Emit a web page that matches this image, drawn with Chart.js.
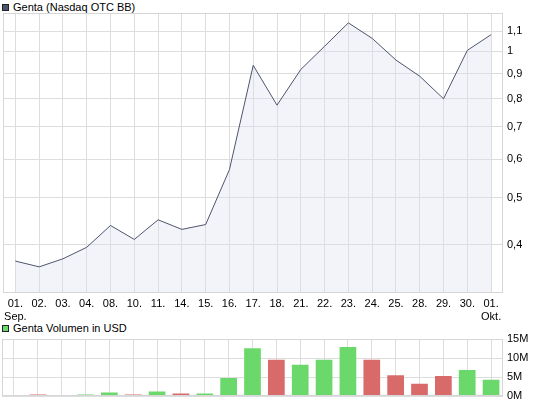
<!DOCTYPE html>
<html>
<head>
<meta charset="utf-8">
<script src="https://cdn.jsdelivr.net/npm/chart.js@4.4.1/dist/chart.umd.min.js"></script>
<style>
  body { margin: 0; width: 545px; height: 407px; overflow: hidden; background: #fff;
         font-family: "Liberation Sans", Arial, sans-serif; font-size: 11px; color: #000; }
  .legend { position: absolute; left: 2px; height: 12px; line-height: 12px; white-space: nowrap; }
  .legend i { display: inline-block; width: 5px; height: 5px; border: 1px solid #222;
              margin-right: 4px; vertical-align: 0px; }
  #priceBox { position: absolute; left: 0; top: 0; width: 545px; height: 322px; }
  #volBox { position: absolute; left: 0; top: 320px; width: 545px; height: 87px; }
</style>
</head>
<body>
<div class="legend" style="top:1px"><i style="background:#4e546c"></i>Genta (Nasdaq OTC BB)</div>
<div class="legend" style="top:322px"><i style="background:#6ad86a"></i>Genta Volumen in USD</div>
<div id="priceBox"><canvas id="price"></canvas></div>
<div id="volBox"><canvas id="vol"></canvas></div>
<script>
  // trading days, 01. Sep. to 01. Okt.
  const days = [['01.', 'Sep.'], '02.', '03.', '04.', '08.', '10.', '11.', '14.', '15.', '16.',
    '17.', '18.', '21.', '22.', '23.', '24.', '25.', '28.', '29.', '30.', ['01.', 'Okt.']];
  // closing price in USD
  const price = [0.370, 0.360, 0.374, 0.395, 0.438, 0.410, 0.450, 0.430, 0.440, 0.571,
    0.936, 0.775, 0.918, 1.025, 1.145, 1.064, 0.960, 0.889, 0.799, 1.005, 1.083];
  // volume in million USD
  const volume = [0.25, 0.5, 0.25, 0.5, 1.0, 0.5, 1.25, 0.75, 0.75, 4.8,
    12.6, 9.6, 8.3, 9.6, 12.9, 9.6, 5.55, 3.3, 5.3, 6.9, 4.35];
  const priceTicks = [0.4, 0.5, 0.6, 0.7, 0.8, 0.9, 1, 1.1];
  const volumeTicks = [0, 5, 10, 15];

  const up = price.map((v, i) => i > 0 && v >= price[i - 1]);

  const font = { family: '"Liberation Sans", Arial, sans-serif', size: 11 };
  const gridColor = '#dddddd';

  // light frame all round the plot area
  const frame = {
    id: 'frame',
    afterDraw(chart) {
      const a = chart.chartArea, c = chart.ctx;
      c.save();
      c.strokeStyle = '#d6d6d6';
      c.lineWidth = 1;
      c.strokeRect(Math.round(a.left) + 0.5, Math.round(a.top) + 0.5,
        Math.round(a.right - a.left) - 1, Math.round(a.bottom - a.top) - 1);
      c.restore();
    }
  };

  new Chart(document.getElementById('price'), {
    type: 'line',
    data: {
      labels: days,
      datasets: [{
        data: price,
        borderColor: '#4e546c',
        borderWidth: 1,
        backgroundColor: 'rgba(220, 224, 240, 0.35)',
        fill: 'start',
        pointRadius: 0,
        tension: 0
      }]
    },
    options: {
      responsive: true,
      maintainAspectRatio: false,
      animation: false,
      layout: { padding: { left: 2, top: 13, right: 0, bottom: 0 } },
      plugins: { legend: { display: false }, tooltip: { enabled: false } },
      scales: {
        x: {
          offset: true,
          grid: { offset: false, color: gridColor, drawTicks: false },
          border: { display: false },
          ticks: { color: '#000', font: font, padding: 4, maxRotation: 0, autoSkip: false },
          afterFit(s) { s.height = 29; }
        },
        y: {
          type: 'logarithmic',
          position: 'right',
          min: 0.318,
          max: 1.2,
          grid: { color: gridColor, drawTicks: false },
          border: { display: false },
          afterBuildTicks(s) { s.ticks = priceTicks.map(v => ({ value: v })); },
          ticks: {
            color: '#000', font: font, padding: 4,
            callback: v => String(v).replace('.', ',')
          },
          afterFit(s) { s.width = 42; }
        }
      }
    },
    plugins: [frame]
  });

  new Chart(document.getElementById('vol'), {
    type: 'bar',
    data: {
      labels: days,
      datasets: [{
        data: volume,
        backgroundColor: up.map(u => u ? '#6ad86a' : '#d96a6a'),
        barPercentage: 0.7,
        categoryPercentage: 1
      }]
    },
    options: {
      responsive: true,
      maintainAspectRatio: false,
      animation: false,
      layout: { padding: { left: 2, top: 19, right: 0, bottom: 9 } },
      plugins: { legend: { display: false }, tooltip: { enabled: false } },
      scales: {
        x: {
          offset: true,
          grid: { offset: false, color: gridColor, drawTicks: false },
          border: { display: false },
          ticks: { display: false },
          afterFit(s) { s.height = 0; }
        },
        y: {
          position: 'right',
          min: 0,
          max: 15,
          grid: { color: gridColor, drawTicks: false },
          border: { display: false },
          afterBuildTicks(s) { s.ticks = volumeTicks.map(v => ({ value: v })); },
          ticks: { color: '#000', font: font, padding: 4, callback: v => v + 'M' },
          afterFit(s) { s.width = 42; }
        }
      }
    },
    plugins: [frame]
  });
</script>
</body>
</html>
